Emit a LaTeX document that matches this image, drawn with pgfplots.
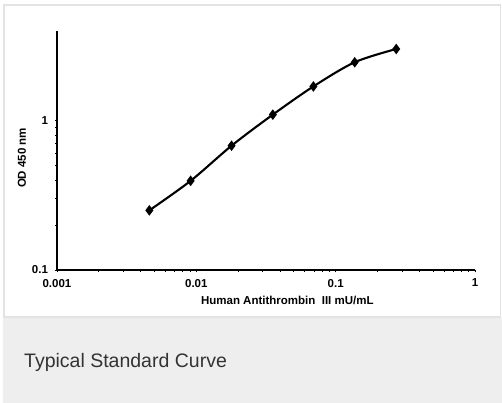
\documentclass[border=0pt]{standalone}
\usepackage{fontspec}
\setmainfont{Liberation Sans}
\usepackage{pgfplots}
\pgfplotsset{compat=1.18}

\definecolor{bandgray}{HTML}{EDEEED}
\definecolor{framegray}{HTML}{E2E3E2}
\definecolor{captiongray}{HTML}{333333}

\begin{document}
\begin{tikzpicture}
% panel and caption band
\fill[white] (0bp,0bp) rectangle (502bp,403bp);
\fill[bandgray] (3bp,0bp) rectangle (502bp,86bp);
\draw[framegray, line width=1.5bp] (3.75bp,86bp) rectangle (500.5bp,398bp);
\node[anchor=base west, inner sep=0pt, text=captiongray, font=\fontsize{19.5bp}{22bp}\selectfont]
  at (24bp,36bp) {Typical Standard Curve};

\begin{axis}[
    at={(57bp,133bp)}, anchor=south west,
    scale only axis,
    width=418bp, height=239bp,
    xmode=log, ymode=log,
    xmin=0.001, xmax=1,
    ymin=0.1, ymax=4,
    axis lines*=left,
    axis line style={line width=1.4bp},
    xtick={0.001,0.01,0.1,1},
    xticklabels={0.001,0.01,0.1,1},
    ytick={0.1,1},
    yticklabels={0.1,1},
    tick align=outside,
    major tick length=2.5bp,
    minor tick length=2bp,
    tick style={black, line width=0.9bp},
    ticklabel style={font=\fontsize{11.5bp}{13bp}\selectfont\bfseries},
    xticklabel style={yshift=-3bp},
    yticklabel style={xshift=-3bp},
    label style={font=\fontsize{11.5bp}{13bp}\selectfont\bfseries},
    xlabel={Human Antithrombin \ III mU/mL},
    ylabel={OD 450 nm},
    xlabel style={at={(axis description cs:0.551,-0.1255)}, anchor=center},
    ylabel style={at={(axis description cs:-0.0837,0.469)}, anchor=center},
    clip=false,
]
\addplot[black, line width=2.1bp, smooth, mark=diamond*, mark size=3.6bp,
         mark options={solid, fill=black}] coordinates {
    (0.0046, 0.251)
    (0.0091, 0.396)
    (0.0179, 0.681)
    (0.0354, 1.10)
    (0.0692, 1.70)
    (0.137, 2.47)
    (0.272, 3.03)
};
\end{axis}
\end{tikzpicture}
\end{document}
